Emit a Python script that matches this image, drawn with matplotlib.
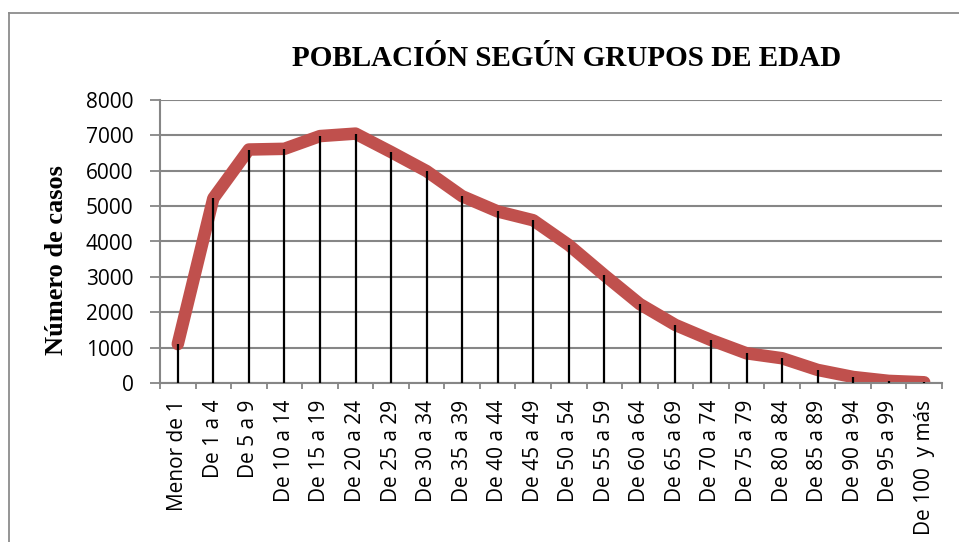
import numpy as np
import matplotlib
matplotlib.use("Agg")
import matplotlib.pyplot as plt
from matplotlib.lines import Line2D

# ----- DATA -----
grupos = ["Menor de 1", "De 1 a 4", "De 5 a 9", "De 10 a 14", "De 15 a 19",
          "De 20 a 24", "De 25 a 29", "De 30 a 34", "De 35 a 39", "De 40 a 44",
          "De 45 a 49", "De 50 a 54", "De 55 a 59", "De 60 a 64", "De 65 a 69",
          "De 70 a 74", "De 75 a 79", "De 80 a 84", "De 85 a 89", "De 90 a 94",
          "De 95 a 99", "De 100  y más"]
casos = [1100, 5220, 6600, 6620, 6980, 7050, 6530, 5990, 5280, 4850, 4600,
         3900, 3050, 2230, 1640, 1215, 840, 700, 370, 170, 60, 20]
y_ticks = [0, 1000, 2000, 3000, 4000, 5000, 6000, 7000, 8000]

gray = "#868686"
red = "#C0504D"

fig = plt.figure(figsize=(9.59, 5.42), dpi=100, facecolor="white")
ax = fig.add_axes([160/959, 159/542, 782/959, 283/542])

x = np.arange(len(grupos))

# main line and drop lines
ax.plot(x, casos, color=red, lw=9, solid_joinstyle="round",
        solid_capstyle="round", zorder=2)
ax.vlines(x, 0, casos, color="black", lw=1.6, zorder=3)

ax.set_xlim(-0.5, len(grupos) - 0.5)
ax.set_ylim(0, 8000)

# y axis
ax.set_yticks(y_ticks)
ax.set_yticklabels([str(v) for v in y_ticks], fontfamily="Open Sans", fontsize=15)
ax.grid(axis="y", color=gray, lw=1.5, zorder=0)
ax.set_axisbelow(True)
ax.tick_params(axis="y", length=7, width=1.3, color=gray, pad=12)

# x axis: ticks between categories, labels at centres
ax.set_xticks(np.arange(len(grupos) + 1) - 0.5)
ax.set_xticklabels([])
ax.set_xticks(x, minor=True)
ax.set_xticklabels(grupos, minor=True, rotation=90, fontfamily="Open Sans",
                   fontsize=15, va="top", ha="center")
ax.tick_params(axis="x", which="major", length=4, width=1.3, color=gray)
ax.tick_params(axis="x", which="minor", length=0, pad=12)

for s in ["top", "right"]:
    ax.spines[s].set_visible(False)
for s in ["left", "bottom"]:
    ax.spines[s].set_color(gray)
    ax.spines[s].set_linewidth(1.5)

ax.set_ylabel("Número de casos", fontfamily="Liberation Serif", fontweight="bold",
              fontsize=19)
ax.yaxis.set_label_coords(-0.118, 0.435)

fig.text(567/959, 1 - 58/542, "POBLACIÓN SEGÚN GRUPOS DE EDAD",
         fontfamily="Liberation Serif", fontweight="bold", fontsize=21,
         ha="center", va="center")

# chart border (only top and left visible in the crop)
fig.add_artist(Line2D([9/959, 9/959], [0, 1 - 13/542], color="#8c8c8c", lw=1.3))
fig.add_artist(Line2D([9/959, 1], [1 - 13/542, 1 - 13/542], color="#8c8c8c", lw=1.3))

fig.savefig("out.png", dpi=100, facecolor="white")
